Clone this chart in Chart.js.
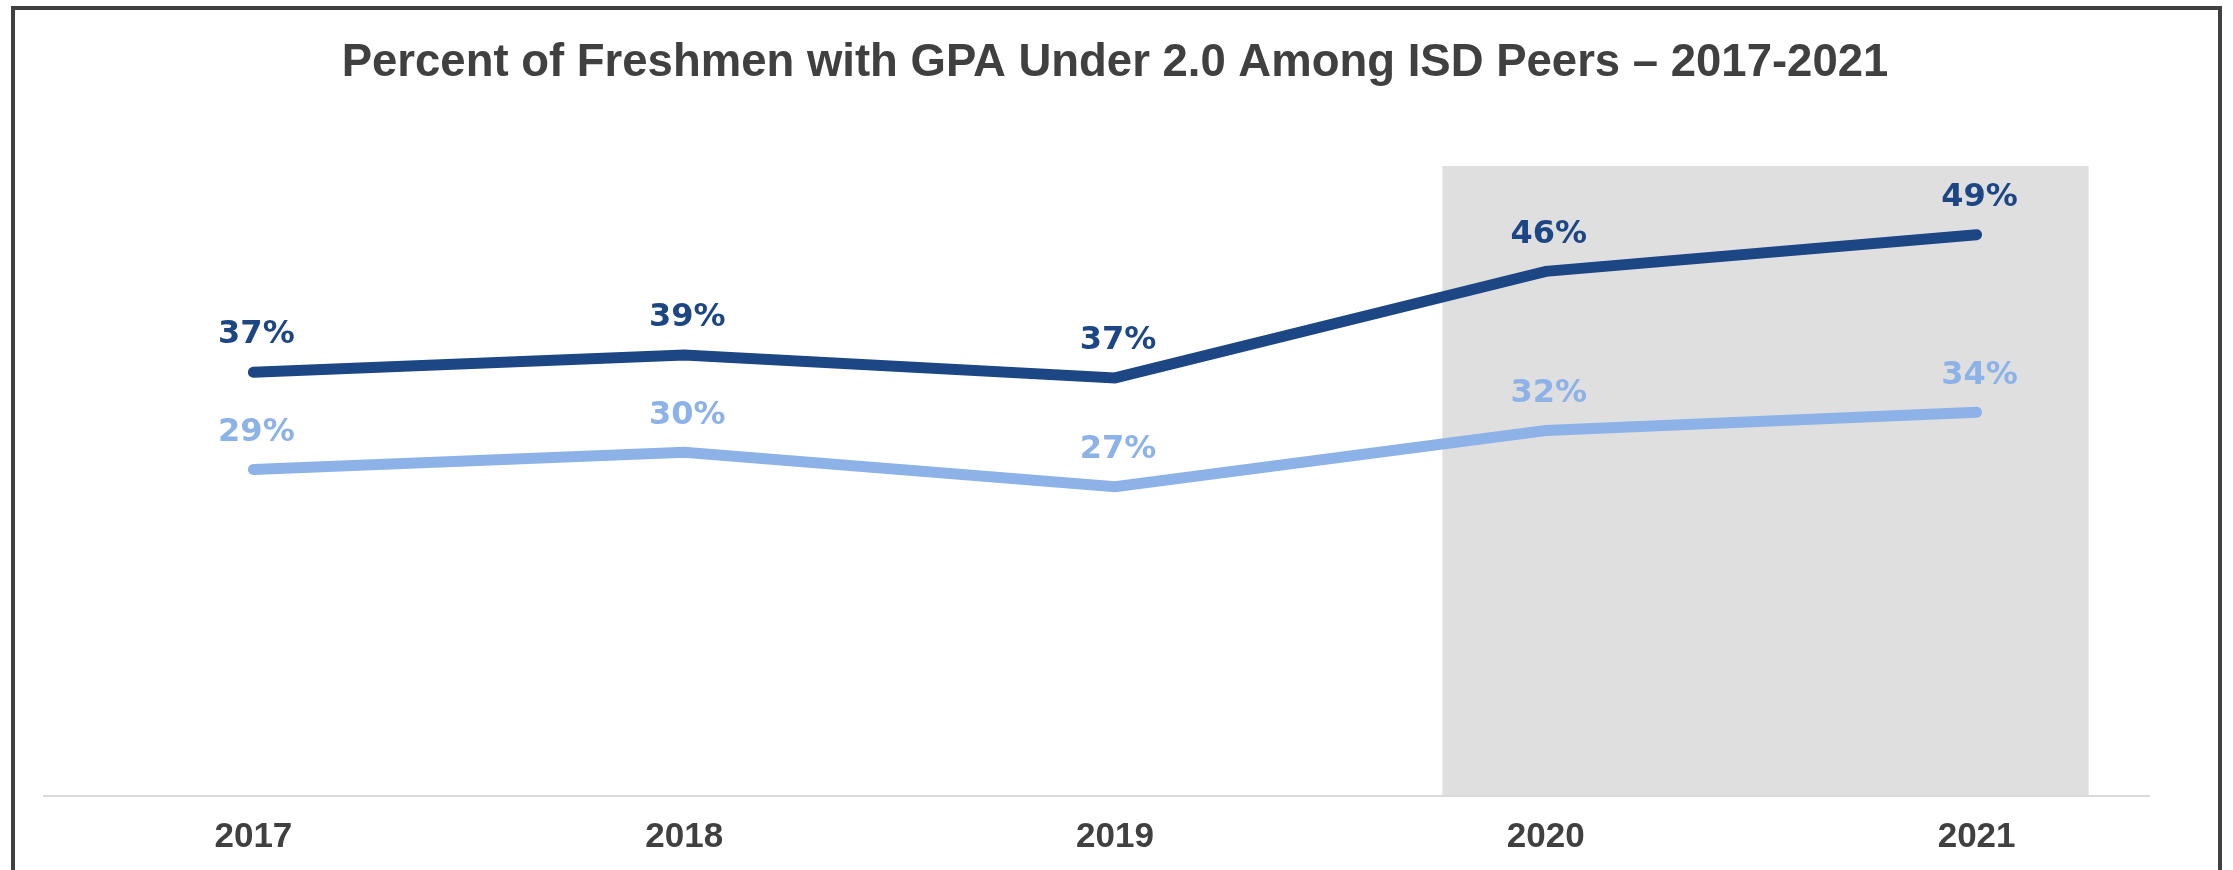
<!DOCTYPE html>
<html>
<head>
<meta charset="utf-8">
<script src="https://cdn.jsdelivr.net/npm/chart.js@4"></script>
<style>
    html, body { margin: 0; padding: 0; background: #fff; overflow: hidden; }
    #frame {
        position: absolute; left: 11px; top: 6px; width: 2211px; height: 900px;
        box-sizing: border-box; border: 4px solid #404040; pointer-events: none;
    }
    #wrap { position: absolute; left: 0; top: 0; width: 2233px; height: 870px; }
</style>
</head>
<body>
<div id="wrap"><canvas id="chartGpa" width="2233" height="870"></canvas></div>
<div id="frame"></div>
<script>
const years = ['2017', '2018', '2019', '2020', '2021'];
const isdPeers = [37.0, 38.5, 36.5, 45.8, 49.0];
const otherPeers = [28.5, 30.0, 27.0, 31.9, 33.5];

// shaded box behind 2020-2021 (category index units, y in %)
const shadeFrom = 2.76;
const shadeTo = 4.26;
const shadeTop = 55;

const shadePlugin = {
    id: 'shade',
    beforeDraw(chart) {
        const x = chart.scales.x, y = chart.scales.y;
        const step = x.getPixelForValue(1) - x.getPixelForValue(0);
        const left = x.getPixelForValue(0) + shadeFrom * step;
        const right = x.getPixelForValue(0) + shadeTo * step;
        const top = y.getPixelForValue(shadeTop);
        const base = y.getPixelForValue(0);
        const ctx = chart.ctx;
        ctx.save();
        ctx.fillStyle = '#dfdfdf';
        ctx.fillRect(left, top, right - left, base - top);
        // baseline rule, a bit shorter than the plot on the right
        ctx.strokeStyle = '#d9d9d9';
        ctx.lineWidth = 2;
        ctx.beginPath();
        ctx.moveTo(x.left + 5, base);
        ctx.lineTo(x.right - 42, base);
        ctx.stroke();
        ctx.restore();
    }
};

const labelPlugin = {
    id: 'pointLabels',
    afterDatasetsDraw(chart) {
        const ctx = chart.ctx;
        ctx.save();
        ctx.textAlign = 'center';
        ctx.textBaseline = 'middle';
        chart.data.datasets.forEach((ds, i) => {
            const meta = chart.getDatasetMeta(i);
            ctx.fillStyle = ds.borderColor;
            ctx.font = ds.labelFont;
            meta.data.forEach((pt, j) => {
                ctx.fillText(Math.round(ds.data[j]) + '%', pt.x + 3, pt.y - 37);
            });
        });
        ctx.restore();
    }
};

const ctx = document.getElementById('chartGpa').getContext('2d');
const myChart = new Chart(ctx, {
    type: 'line',
    data: {
        labels: years,
        datasets: [{
            label: 'ISD Peers',
            data: isdPeers,
            borderColor: '#1d4684',
            borderWidth: 11,
            borderCapStyle: 'round',
            pointRadius: 0,
            labelFont: 'bold 32px "DejaVu Sans"'
        }, {
            label: 'Comparison',
            data: otherPeers,
            borderColor: '#8cb2e8',
            borderWidth: 11,
            borderCapStyle: 'round',
            pointRadius: 0,
            labelFont: 'bold 32px "DejaVu Sans"'
        }]
    },
    options: {
        responsive: false,
        animation: false,
        layout: { padding: { left: 38, right: 41, top: 0, bottom: -8 } },
        plugins: {
            legend: { display: false },
            tooltip: { enabled: false },
            title: {
                display: true,
                text: 'Percent of Freshmen with GPA Under 2.0 Among ISD Peers \u2013 2017-2021',
                color: '#404040',
                font: { family: 'Liberation Sans', size: 45.5, weight: 'bold' },
                padding: { top: 36, bottom: 75.4 }
            }
        },
        scales: {
            x: {
                offset: true,
                grid: { display: false, drawTicks: false },
                border: { display: false },
                ticks: {
                    color: '#404040',
                    padding: 20,
                    font: { family: 'Liberation Sans', size: 35, weight: 'bold' }
                }
            },
            y: { display: false, min: 0, max: 55 }
        }
    },
    plugins: [shadePlugin, labelPlugin]
});
</script>
</body>
</html>
